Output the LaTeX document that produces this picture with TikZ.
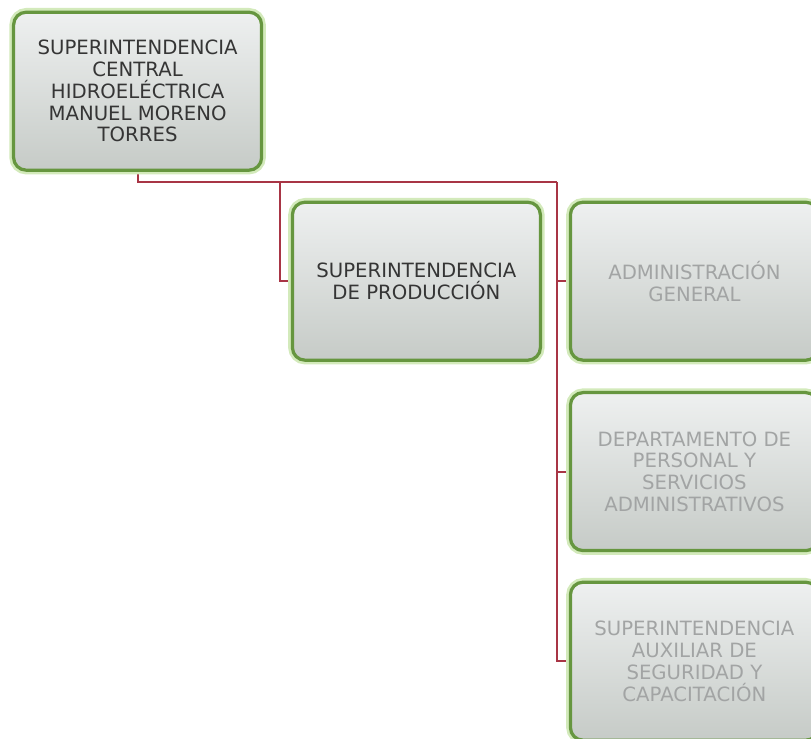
\documentclass[tikz,border=0pt]{standalone}
\usepackage{fontspec}
\setmainfont{DejaVu Sans}
\usepackage{xcolor}
\usetikzlibrary{positioning, backgrounds}
\definecolor{boxgreen}{HTML}{66963F}
\definecolor{glowgreen}{HTML}{D3EABB}
\definecolor{linkred}{HTML}{A83545}
\definecolor{filltop}{HTML}{EEF0F0}
\definecolor{fillbot}{HTML}{C6CBC7}
\definecolor{darktext}{HTML}{353535}
\definecolor{greytext}{HTML}{A2A4A4}
\tikzset{
  %% Org chart box
  obox/.style={
    rectangle, rounded corners=9pt,
    draw=boxgreen, line width=2.3pt,
    top color=filltop, bottom color=fillbot,
    preaction={draw=glowgreen, line width=6pt},
    text=#1, align=center,
    font=\fontsize{14}{15.5}\selectfont,
    minimum width=6.2cm, minimum height=3.95cm,
    inner sep=2pt
  },
  obox/.default=darktext,
  %% Connector
  link/.style={draw=linkred, line width=1.3pt},
}

\begin{document}
\begin{tikzpicture}
  \useasboundingbox (0,0) rectangle (20.275,-18.45);
  \clip (0,0) rectangle (20.275,-18.45);

  %% Boxes
  \node[obox] (sup) at (3.44,-2.28)
       {SUPERINTENDENCIA\\CENTRAL\\HIDROELÉCTRICA\\MANUEL MORENO\\TORRES};
  \node[obox] (prod) at (10.41,-7.03)
       {SUPERINTENDENCIA\\DE PRODUCCIÓN};
  \node[obox=greytext] (adm) at (17.36,-7.03)
       {ADMINISTRACIÓN\\GENERAL};
  \node[obox=greytext] (dep) at (17.36,-11.79)
       {DEPARTAMENTO DE\\PERSONAL Y\\SERVICIOS\\ADMINISTRATIVOS};
  \node[obox=greytext] (aux) at (17.36,-16.53)
       {SUPERINTENDENCIA\\AUXILIAR DE\\SEGURIDAD Y\\CAPACITACIÓN};

  %% Connectors
  \begin{scope}[on background layer]
    \fill[white] (0,0) rectangle (20.275,-18.45);
    \coordinate (bus) at (13.925,-4.55);
    \coordinate (tap) at (7.0,-4.55);
    \draw[link] (sup.south) |- (bus);
    \draw[link] (prod.west) -| (tap);
    \draw[link] (bus) |- (aux.west);
    \draw[link] (bus |- adm.west) -- (adm.west);
    \draw[link] (bus |- dep.west) -- (dep.west);
  \end{scope}

\end{tikzpicture}
\end{document}
